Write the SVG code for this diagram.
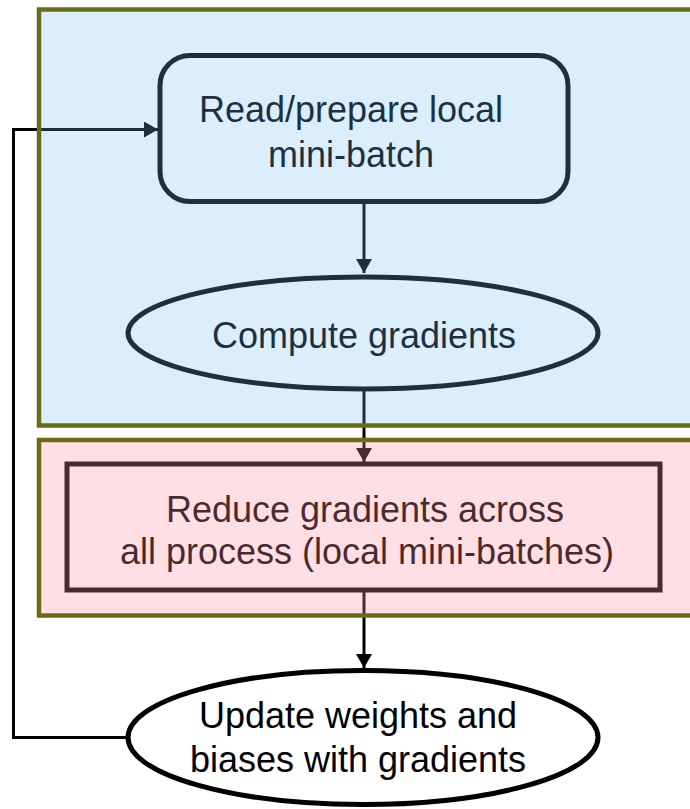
<svg xmlns="http://www.w3.org/2000/svg" width="690" height="809" viewBox="0 0 690 809">
<defs>
<style>
.node{fill:none;stroke:#000;stroke-width:5}
.white{fill:#fff}
.lbl{font-family:"Liberation Sans",Arial,sans-serif;font-size:36px;fill:#000;text-anchor:middle}
.conn{fill:none;stroke:#000;stroke-width:3}
.cont{stroke:#6b6b16;stroke-width:4.5}
</style>
<marker id="arr" viewBox="0 0 14 16" refX="14" refY="8" markerWidth="14" markerHeight="16" markerUnits="userSpaceOnUse" orient="auto">
<path d="M0,0 L14,8 L0,16 Z" fill="#000"/>
</marker>
</defs>
<rect width="690" height="809" fill="#fff"/>
<g id="connectors">
<path class="conn" d="M364,202 L364,273" marker-end="url(#arr)"/>
<path class="conn" d="M364,391 L364,462" marker-end="url(#arr)"/>
<path class="conn" d="M364,592 L364,668" marker-end="url(#arr)"/>
<path class="conn" d="M127,737.5 L13.5,737.5 L13.5,129.5 L158,129.5" marker-end="url(#arr)"/>
</g>
<g id="read">
<rect class="node" x="160" y="55.5" width="408" height="146" rx="30"/>
<text class="lbl" x="351" y="122">Read/prepare local</text>
<text class="lbl" x="351" y="167">mini-batch</text>
</g>
<g id="compute">
<ellipse class="node" cx="363" cy="333" rx="235" ry="56"/>
<text class="lbl" x="364" y="348">Compute gradients</text>
</g>
<g id="reduce">
<rect class="node" x="67" y="464" width="593" height="126"/>
<text class="lbl" x="365" y="522">Reduce gradients across</text>
<text class="lbl" x="367" y="564">all process (local mini-batches)</text>
</g>
<g id="update">
<ellipse class="node white" cx="363" cy="737.5" rx="235" ry="67"/>
<text class="lbl" x="358" y="728">Update weights and</text>
<text class="lbl" x="358" y="772">biases with gradients</text>
</g>
<g id="local-container">
<rect class="cont" x="39" y="9.5" width="670" height="416" fill="#72bcfb" fill-opacity="0.255"/>
</g>
<g id="reduce-container">
<rect class="cont" x="39" y="440" width="670" height="175.5" fill="#ff919f" fill-opacity="0.29"/>
</g>
</svg>
